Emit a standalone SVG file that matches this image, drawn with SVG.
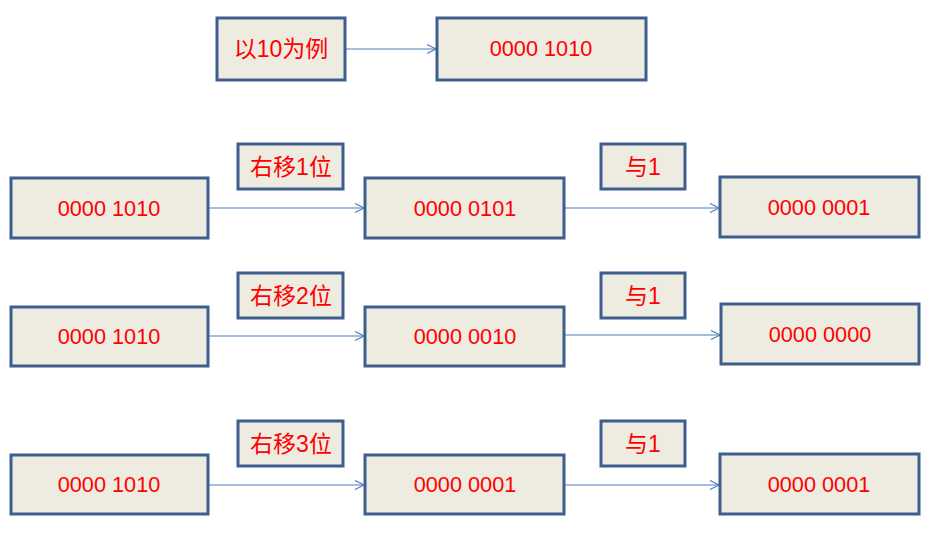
<svg xmlns="http://www.w3.org/2000/svg" width="931" height="536" viewBox="0 0 931 536">
<defs>
<style>
.box{fill:#eeece1;stroke:#3c5f8d;stroke-width:3;}
.t{fill:#ff0000;font-family:"Liberation Sans","Noto Sans CJK SC",sans-serif;font-size:21.7px;text-anchor:middle;}
.k{font-size:23px;}
.c{stroke:#4a7ebb;stroke-width:1.2;fill:none;marker-end:url(#ah);}
</style>
<marker id="ah" markerWidth="12" markerHeight="12" refX="10" refY="5" orient="auto" markerUnits="userSpaceOnUse">
<path d="M1,0.5 L10,5 L1,9.5" fill="none" stroke="#4a7ebb" stroke-width="1.2"/>
</marker>
</defs>
<rect width="931" height="536" fill="#ffffff"/>
<g id="connectors">
<line class="c" x1="345" y1="49" x2="436" y2="49"/>
<line class="c" x1="208" y1="208" x2="364" y2="208"/>
<line class="c" x1="564" y1="208" x2="719" y2="208"/>
<line class="c" x1="208" y1="336" x2="364" y2="336"/>
<line class="c" x1="564" y1="335" x2="720" y2="335"/>
<line class="c" x1="208" y1="485" x2="364" y2="485"/>
<line class="c" x1="564" y1="485" x2="719" y2="485"/>
</g>
<g id="n_top_label"><rect class="box" x="217" y="18" width="128" height="62"/><text class="t k" x="281" y="57">以10为例</text></g>
<g id="n_top_value"><rect class="box" x="437" y="18" width="209" height="62"/><text class="t" x="541" y="56">0000 1010</text></g>

<g id="n_r1_a"><rect class="box" x="11" y="178" width="197" height="60"/><text class="t" x="109" y="216">0000 1010</text></g>
<g id="n_r1_l1"><rect class="box" x="238" y="144" width="105" height="45"/><text class="t k" x="291" y="175">右移1位</text></g>
<g id="n_r1_b"><rect class="box" x="365" y="178" width="199" height="60"/><text class="t" x="465" y="216">0000 0101</text></g>
<g id="n_r1_l2"><rect class="box" x="601" y="144" width="84" height="45"/><text class="t k" x="643" y="175">与1</text></g>
<g id="n_r1_c"><rect class="box" x="720" y="177" width="199" height="60"/><text class="t" x="819" y="215">0000 0001</text></g>

<g id="n_r2_a"><rect class="box" x="11" y="307" width="197" height="59"/><text class="t" x="109" y="344">0000 1010</text></g>
<g id="n_r2_l1"><rect class="box" x="238" y="273" width="105" height="45"/><text class="t k" x="291" y="304">右移2位</text></g>
<g id="n_r2_b"><rect class="box" x="365" y="307" width="199" height="59"/><text class="t" x="465" y="344">0000 0010</text></g>
<g id="n_r2_l2"><rect class="box" x="601" y="273" width="84" height="45"/><text class="t k" x="643" y="304">与1</text></g>
<g id="n_r2_c"><rect class="box" x="721" y="304" width="198" height="60"/><text class="t" x="820" y="342">0000 0000</text></g>

<g id="n_r3_a"><rect class="box" x="11" y="455" width="197" height="59"/><text class="t" x="109" y="492">0000 1010</text></g>
<g id="n_r3_l1"><rect class="box" x="238" y="421" width="105" height="45"/><text class="t k" x="291" y="452">右移3位</text></g>
<g id="n_r3_b"><rect class="box" x="365" y="455" width="199" height="59"/><text class="t" x="465" y="492">0000 0001</text></g>
<g id="n_r3_l2"><rect class="box" x="601" y="421" width="84" height="45"/><text class="t k" x="643" y="452">与1</text></g>
<g id="n_r3_c"><rect class="box" x="720" y="454" width="199" height="60"/><text class="t" x="819" y="492">0000 0001</text></g>
</svg>
